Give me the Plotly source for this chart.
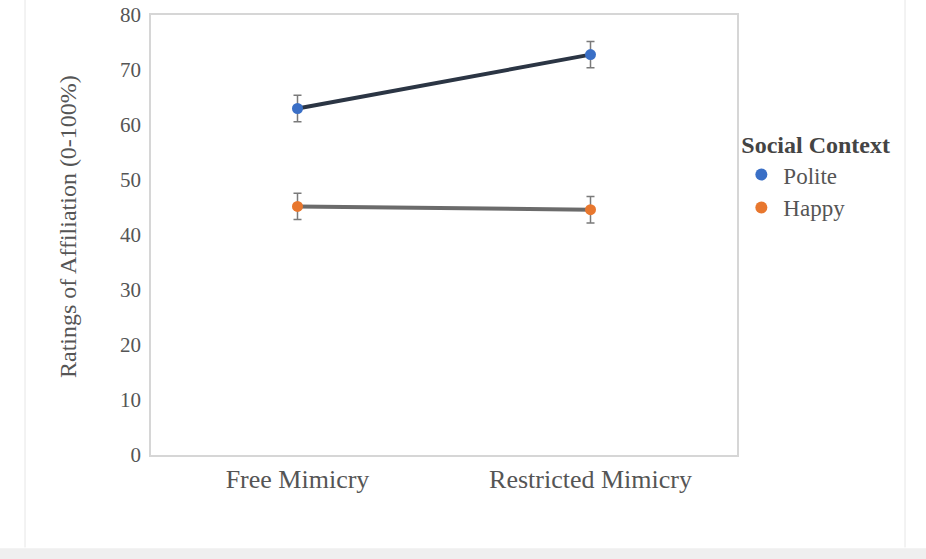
import plotly.graph_objects as go

conditions = ["Free Mimicry", "Restricted Mimicry"]
polite = [63.0, 72.8]
polite_err = [2.4, 2.4]
happy = [45.2, 44.6]
happy_err = [2.4, 2.4]
y_ticks = [0, 10, 20, 30, 40, 50, 60, 70, 80]

serif = "Liberation Serif, Times New Roman, serif"
text_grey = "#555555"
blue = "#3a6fc6"
orange = "#e8772e"

fig = go.Figure()
fig.add_trace(go.Scatter(
    x=conditions, y=polite, name="Polite", mode="lines+markers", showlegend=False,
    line=dict(color="#2b3544", width=4),
    marker=dict(color=blue, size=11),
    error_y=dict(type="data", array=polite_err, color="#7a7a7a", thickness=1.5, width=4),
))
fig.add_trace(go.Scatter(
    x=conditions, y=happy, name="Happy", mode="lines+markers", showlegend=False,
    line=dict(color="#6b6b6b", width=4),
    marker=dict(color=orange, size=11),
    error_y=dict(type="data", array=happy_err, color="#7a7a7a", thickness=1.5, width=4),
))
# marker-only legend entries
for name, col in (("Polite", blue), ("Happy", orange)):
    fig.add_trace(go.Scatter(
        x=[None], y=[None], name=name, mode="markers",
        marker=dict(color=col, size=12),
    ))

fig.update_layout(
    width=926, height=559,
    margin=dict(l=151, r=189, t=15, b=104),
    paper_bgcolor="white", plot_bgcolor="white",
    font=dict(family=serif, color=text_grey),
    showlegend=True,
    legend=dict(
        x=1.004, y=0.757, xanchor="left", yanchor="top",
        bgcolor="rgba(0,0,0,0)",
        title=dict(text="<b>Social Context</b>", font=dict(size=24, color="#444444")),
        font=dict(size=23, color=text_grey),
        itemwidth=34,
    ),
    xaxis=dict(
        showline=True, linecolor="#d6d6d6", linewidth=1.5, mirror=True,
        showgrid=False, ticks="", tickfont=dict(size=26, color=text_grey),
        range=[-0.5, 1.5], automargin=False,
    ),
    yaxis=dict(
        range=[0, 80], tickvals=y_ticks, showline=True, linecolor="#d6d6d6",
        linewidth=1.5, mirror=True, showgrid=False, zeroline=False, ticks="",
        tickfont=dict(size=21, color=text_grey), ticklabelstandoff=4,
        automargin=False,
    ),
    annotations=[
        dict(text="Ratings of Affiliation (0-100%)", xref="paper", yref="paper",
             x=0, y=0.5, xanchor="center", yanchor="middle", textangle=-90,
             xshift=-83, yshift=8, showarrow=False,
             font=dict(size=24, color=text_grey)),
    ],
    shapes=[
        dict(type="line", xref="paper", yref="paper",
             x0=(25 - 151) / 586, x1=(25 - 151) / 586, y0=-0.21, y1=1.05,
             line=dict(color="#e6e6e6", width=1)),
        dict(type="line", xref="paper", yref="paper",
             x0=(905 - 151) / 586, x1=(905 - 151) / 586, y0=-0.21, y1=1.05,
             line=dict(color="#e6e6e6", width=1)),
        dict(type="rect", xref="paper", yref="paper",
             x0=-0.3, x1=1.4, y0=-0.26, y1=-0.212,
             fillcolor="#efefef", line=dict(width=0), layer="below"),
    ],
)

fig.write_html("out.html")
